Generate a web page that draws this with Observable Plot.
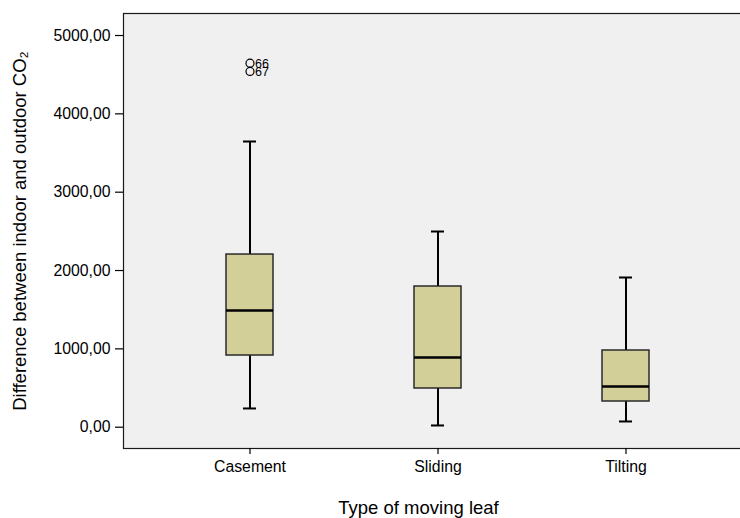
<!DOCTYPE html>
<html>
<head>
<meta charset="utf-8">
<script src="https://cdn.jsdelivr.net/npm/d3@7"></script>
<script src="https://cdn.jsdelivr.net/npm/@observablehq/plot@0.6"></script>
<style>
  html, body { margin: 0; padding: 0; background: #ffffff; overflow: hidden; }
  #chart svg { display: block; font-family: "Liberation Sans", Arial, sans-serif; }
</style>
</head>
<body>
<div id="chart"></div>
<script>
// Categories and box-plot statistics
const categories   = ["Casement", "Sliding", "Tilting"];
const whiskerLow   = [239, 22, 73];
const quartile1    = [915, 494, 328];
const medians      = [1490, 890, 520];
const quartile3    = [2204, 1796, 979];
const whiskerHigh  = [3647, 2498, 1911];

const outlierCategory = ["Casement", "Casement"];
const outlierValue    = [4647, 4541];
const outlierLabel    = ["66", "67"];

const yTicks = [0, 1000, 2000, 3000, 4000, 5000];
const xTitle = "Type of moving leaf";
const yTitle = "Difference between indoor and outdoor CO\u2082";

const boxes = categories.map((c, i) => ({
  cat: c, low: whiskerLow[i], q1: quartile1[i], med: medians[i], q3: quartile3[i], high: whiskerHigh[i]
}));
const outliers = outlierCategory.map((c, i) => ({cat: c, v: outlierValue[i], label: outlierLabel[i]}));

const fmt = d => d.toFixed(2).replace(".", ",");

const chart = Plot.plot({
  width: 740,
  height: 518,
  marginLeft: 123,
  marginRight: -11,
  marginTop: 13,
  marginBottom: 70,
  style: {background: "#ffffff", color: "#000000", fontFamily: "Liberation Sans, Arial, sans-serif"},
  x: {type: "band", domain: categories, paddingInner: 0.75, paddingOuter: 0.545},
  y: {domain: [-272, 5281]},
  marks: [
    Plot.frame({fill: "#f0f0f0", stroke: "#1a1a1a", strokeWidth: 1.2}),
    Plot.axisY({ticks: yTicks, tickFormat: fmt, tickSize: 8, tickPadding: 5, fontSize: 15.8, label: null, strokeWidth: 1.2}),
    Plot.axisX({tickSize: 6, tickPadding: 6, fontSize: 15.8, label: null, strokeWidth: 1.2}),
    Plot.ruleX(boxes, {x: "cat", y1: "low", y2: "q1", stroke: "#000", strokeWidth: 2}),
    Plot.ruleX(boxes, {x: "cat", y1: "q3", y2: "high", stroke: "#000", strokeWidth: 2}),
    Plot.tickY(boxes, {x: "cat", y: "low", insetLeft: 17, insetRight: 17, stroke: "#000", strokeWidth: 2}),
    Plot.tickY(boxes, {x: "cat", y: "high", insetLeft: 17, insetRight: 17, stroke: "#000", strokeWidth: 2}),
    Plot.barY(boxes, {x: "cat", y1: "q1", y2: "q3", fill: "#d3cf98", stroke: "#2a2a2a", strokeWidth: 1.5}),
    Plot.tickY(boxes, {x: "cat", y: "med", stroke: "#000", strokeWidth: 2.6}),
    Plot.dot(outliers, {x: "cat", y: "v", r: 4, stroke: "#000", strokeWidth: 1.2, fill: "none"}),
    Plot.text(outliers, {x: "cat", y: "v", text: "label", textAnchor: "start", lineAnchor: "middle", dx: 5, dy: 1, fontSize: 12.5, fill: "#000"}),
    Plot.text([xTitle], {frameAnchor: "bottom", textAnchor: "middle", lineAnchor: "bottom", dy: 65, dx: -19, fontSize: 18.5, fill: "#000"}),
    Plot.text([yTitle], {frameAnchor: "left", textAnchor: "middle", lineAnchor: "middle", dx: -103, rotate: -90, fontSize: 18.5, fill: "#000"})
  ]
});
document.getElementById("chart").appendChild(chart);
</script>
</body>
</html>
